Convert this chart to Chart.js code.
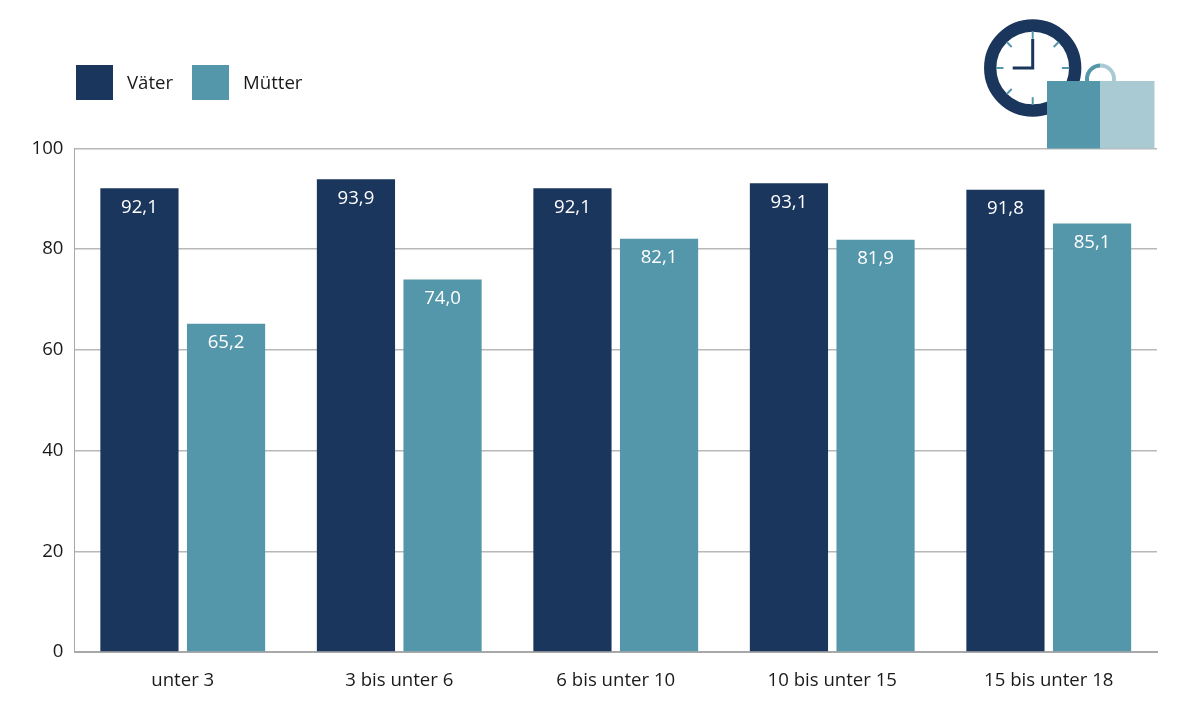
<!DOCTYPE html>
<html lang="de">
<head>
<meta charset="utf-8">
<title>Väter und Mütter</title>
<script src="https://cdn.jsdelivr.net/npm/chart.js@4"></script>
<style>
    html, body { margin: 0; padding: 0; background: #fff; }
    #wrap { position: relative; width: 1201px; height: 720px; }
</style>
</head>
<body>
<div id="wrap"><canvas id="chart" width="1201" height="720"></canvas></div>
<script>
const categories = ['unter 3', '3 bis unter 6', '6 bis unter 10', '10 bis unter 15', '15 bis unter 18'];
const vaeter = [92.1, 93.9, 92.1, 93.1, 91.8];
const muetter = [65.2, 74.0, 82.1, 81.9, 85.1];
const yTicks = [0, 20, 40, 60, 80, 100];

const DARK = '#1b365d';
const TEAL = '#5597aa';
const LIGHT = '#a9cad3';
const GRID = '#b8b8b8';
const TEXT = '#1a1a1a';
const FONT = "'Open Sans', sans-serif";
const FONT_SIZE = 18.6;

function formatValue(v) {
    return v.toLocaleString('de-DE', { minimumFractionDigits: 1, maximumFractionDigits: 1 });
}

// Werte oben in den Balken
const valueLabels = {
    id: 'valueLabels',
    afterDatasetsDraw(chart) {
        const ctx = chart.ctx;
        ctx.save();
        ctx.font = FONT_SIZE + 'px ' + FONT;
        ctx.fillStyle = '#fff';
        ctx.textAlign = 'center';
        ctx.textBaseline = 'middle';
        chart.data.datasets.forEach((ds, i) => {
            chart.getDatasetMeta(i).data.forEach((bar, j) => {
                ctx.fillText(formatValue(ds.data[j]), bar.x, bar.y + 19);
            });
        });
        ctx.restore();
    }
};

// Legende oben links
const topLegend = {
    id: 'topLegend',
    afterDraw(chart) {
        const ctx = chart.ctx;
        const boxes = [76, 192];
        ctx.save();
        ctx.font = FONT_SIZE + 'px ' + FONT;
        ctx.textBaseline = 'middle';
        chart.data.datasets.forEach((ds, i) => {
            ctx.fillStyle = ds.backgroundColor;
            ctx.fillRect(boxes[i], 65, 37, 35);
            ctx.fillStyle = TEXT;
            ctx.fillText(ds.label, boxes[i] + 51, 83.5);
        });
        ctx.restore();
    }
};

// Piktogramm Uhr und Tasche
const clockBag = {
    id: 'clockBag',
    afterDraw(chart) {
        const ctx = chart.ctx;
        const cx = 1032.7, cy = 68;
        ctx.save();
        ctx.strokeStyle = DARK;
        ctx.lineWidth = 12.3;
        ctx.beginPath();
        ctx.arc(cx, cy, 42.5, 0, Math.PI * 2);
        ctx.stroke();

        // Striche alle 45 Grad, unten rechts liegt die Tasche davor
        ctx.strokeStyle = TEAL;
        ctx.lineWidth = 2;
        [0, 45, 90, 180, 225, 270, 315].forEach(deg => {
            const a = deg * Math.PI / 180;
            const len = deg % 90 === 0 ? 7.5 : 7;
            const sx = Math.sin(a), sy = -Math.cos(a);
            ctx.beginPath();
            ctx.moveTo(cx + sx * 36.7, cy + sy * 36.7);
            ctx.lineTo(cx + sx * (36.7 - len), cy + sy * (36.7 - len));
            ctx.stroke();
        });

        ctx.strokeStyle = DARK;
        ctx.lineWidth = 3;
        ctx.beginPath();
        ctx.moveTo(cx, cy - 29);
        ctx.lineTo(cx, cy);
        ctx.lineTo(cx - 20, cy);
        ctx.stroke();

        // Griff
        ctx.lineWidth = 4;
        ctx.strokeStyle = TEAL;
        ctx.beginPath();
        ctx.moveTo(1087, 82);
        ctx.lineTo(1087, 79);
        ctx.arc(1100.5, 79, 13.5, Math.PI, Math.PI * 1.5);
        ctx.stroke();
        ctx.strokeStyle = LIGHT;
        ctx.beginPath();
        ctx.arc(1100.5, 79, 13.5, Math.PI * 1.5, Math.PI * 2);
        ctx.lineTo(1114, 82);
        ctx.stroke();

        ctx.fillStyle = TEAL;
        ctx.fillRect(1047, 81, 53.5, 67.5);
        ctx.fillStyle = LIGHT;
        ctx.fillRect(1100.5, 81, 54, 67.5);
        ctx.restore();
    }
};

new Chart(document.getElementById('chart').getContext('2d'), {
    type: 'bar',
    data: {
        labels: categories,
        datasets: [
            { label: 'Väter', data: vaeter, backgroundColor: DARK },
            { label: 'Mütter', data: muetter, backgroundColor: TEAL }
        ]
    },
    options: {
        responsive: false,
        animation: false,
        devicePixelRatio: 1,
        layout: { padding: { top: 148.5, right: 44, left: 0, bottom: 0 } },
        categoryPercentage: 0.8,
        barPercentage: 0.903,
        plugins: { legend: { display: false }, tooltip: { enabled: false } },
        scales: {
            x: {
                afterFit(scale) { scale.height = 68; },
                grid: { display: false },
                border: { color: '#a8a8a8', width: 2 },
                ticks: { color: TEXT, font: { family: FONT, size: FONT_SIZE }, padding: 10, maxRotation: 0 }
            },
            y: {
                min: 0,
                max: 100,
                afterFit(scale) { scale.width = 74.5; },
                afterBuildTicks(scale) { scale.ticks = yTicks.map(value => ({ value })); },
                grid: { color: GRID, lineWidth: 1.5, drawTicks: false },
                border: { color: '#a8a8a8', width: 1 },
                ticks: { color: TEXT, font: { family: FONT, size: FONT_SIZE }, padding: 11 }
            }
        }
    },
    plugins: [valueLabels, topLegend, clockBag]
});
</script>
</body>
</html>
